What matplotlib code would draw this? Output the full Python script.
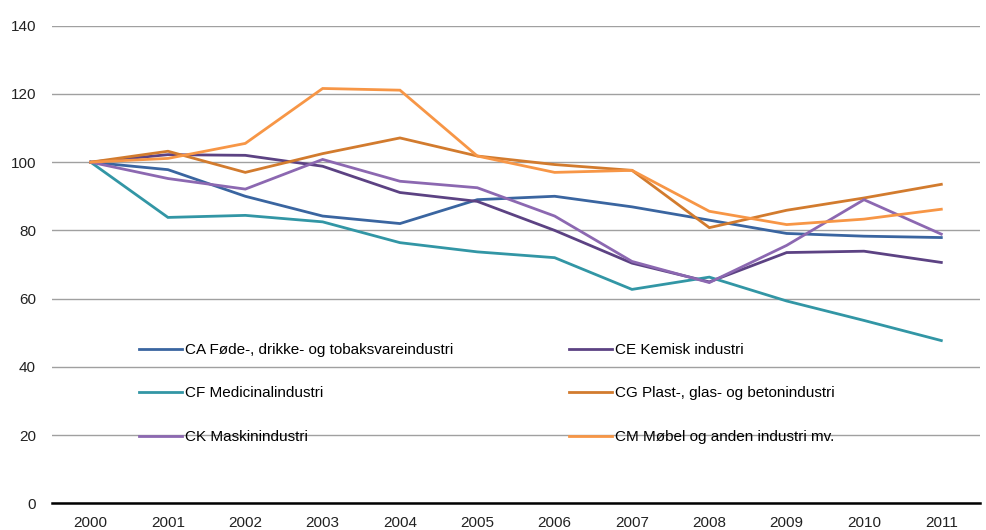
import matplotlib
matplotlib.use("Agg")
import matplotlib.pyplot as plt
import numpy as np

# data (index, 2000 = 100)
years = ["2000", "2001", "2002", "2003", "2004", "2005", "2006", "2007", "2008", "2009", "2010", "2011"]
ca_foede = [100, 97.8, 90.0, 84.2, 82.0, 89.0, 90.0, 86.9, 83.0, 79.1, 78.3, 77.9]
ce_kemisk = [100, 102.2, 102.0, 98.8, 91.1, 88.5, 80.0, 70.4, 64.9, 73.5, 73.9, 70.6]
cf_medicinal = [100, 83.8, 84.4, 82.5, 76.4, 73.7, 72.0, 62.7, 66.3, 59.3, 53.6, 47.7]
cg_plast = [100, 103.2, 97.0, 102.5, 107.1, 101.8, 99.3, 97.6, 80.8, 85.9, 89.5, 93.5]
ck_maskin = [100, 95.2, 92.1, 100.8, 94.4, 92.5, 84.2, 70.9, 64.7, 75.6, 89.0, 78.9]
cm_moebel = [100, 101.1, 105.5, 121.6, 121.1, 101.8, 97.0, 97.6, 85.6, 81.7, 83.3, 86.2]

labels = ["CA Føde-, drikke- og tobaksvareindustri", "CE Kemisk industri",
          "CF Medicinalindustri", "CG Plast-, glas- og betonindustri",
          "CK Maskinindustri", "CM Møbel og anden industri mv."]
series = [ca_foede, ce_kemisk, cf_medicinal, cg_plast, ck_maskin, cm_moebel]
colors = ["#3A65A0", "#5C4283", "#3296A5", "#D27B2E", "#8C68B1", "#F79646"]

plt.rcParams['font.family'] = ['Liberation Sans', 'DejaVu Sans']

fig = plt.figure(figsize=(9.86, 5.30), dpi=100)
ax = fig.add_axes([0.0527, 0.0504, 0.9412, 0.9011])

x = np.arange(len(years))
handles = []
for s, lab, c in zip(series, labels, colors):
    h, = ax.plot(x, s, color=c, lw=2.0, label=lab, solid_joinstyle='miter')
    handles.append(h)

ax.set_xlim(-0.5, len(years) - 0.5)
ax.set_ylim(0, 140)
ax.set_yticks(range(0, 141, 20))
ax.set_xticks(x)
ax.set_xticklabels(years)
ax.yaxis.grid(True, color="#a0a0a0", lw=1.0)
ax.set_axisbelow(True)
for sp in ["top", "right", "left"]:
    ax.spines[sp].set_visible(False)
ax.spines["bottom"].set_color("black")
ax.spines["bottom"].set_linewidth(1.8)
ax.tick_params(axis="both", length=0, labelsize=11, colors="#222222")
ax.tick_params(axis="y", pad=11.5)
ax.tick_params(axis="x", pad=9)

# legend fills column by column, so reorder to get row order CA CE / CF CG / CK CM
order = [0, 2, 4, 1, 3, 5]
fig.legend([handles[i] for i in order], [labels[i] for i in order],
           loc="upper left", bbox_to_anchor=(0.141, 0.353), ncol=2,
           frameon=False, borderpad=0, borderaxespad=0, handlelength=2.8,
           handletextpad=0.2, columnspacing=7.6, labelspacing=1.93,
           prop={"size": 11})

fig.savefig("out.png", dpi=100)
